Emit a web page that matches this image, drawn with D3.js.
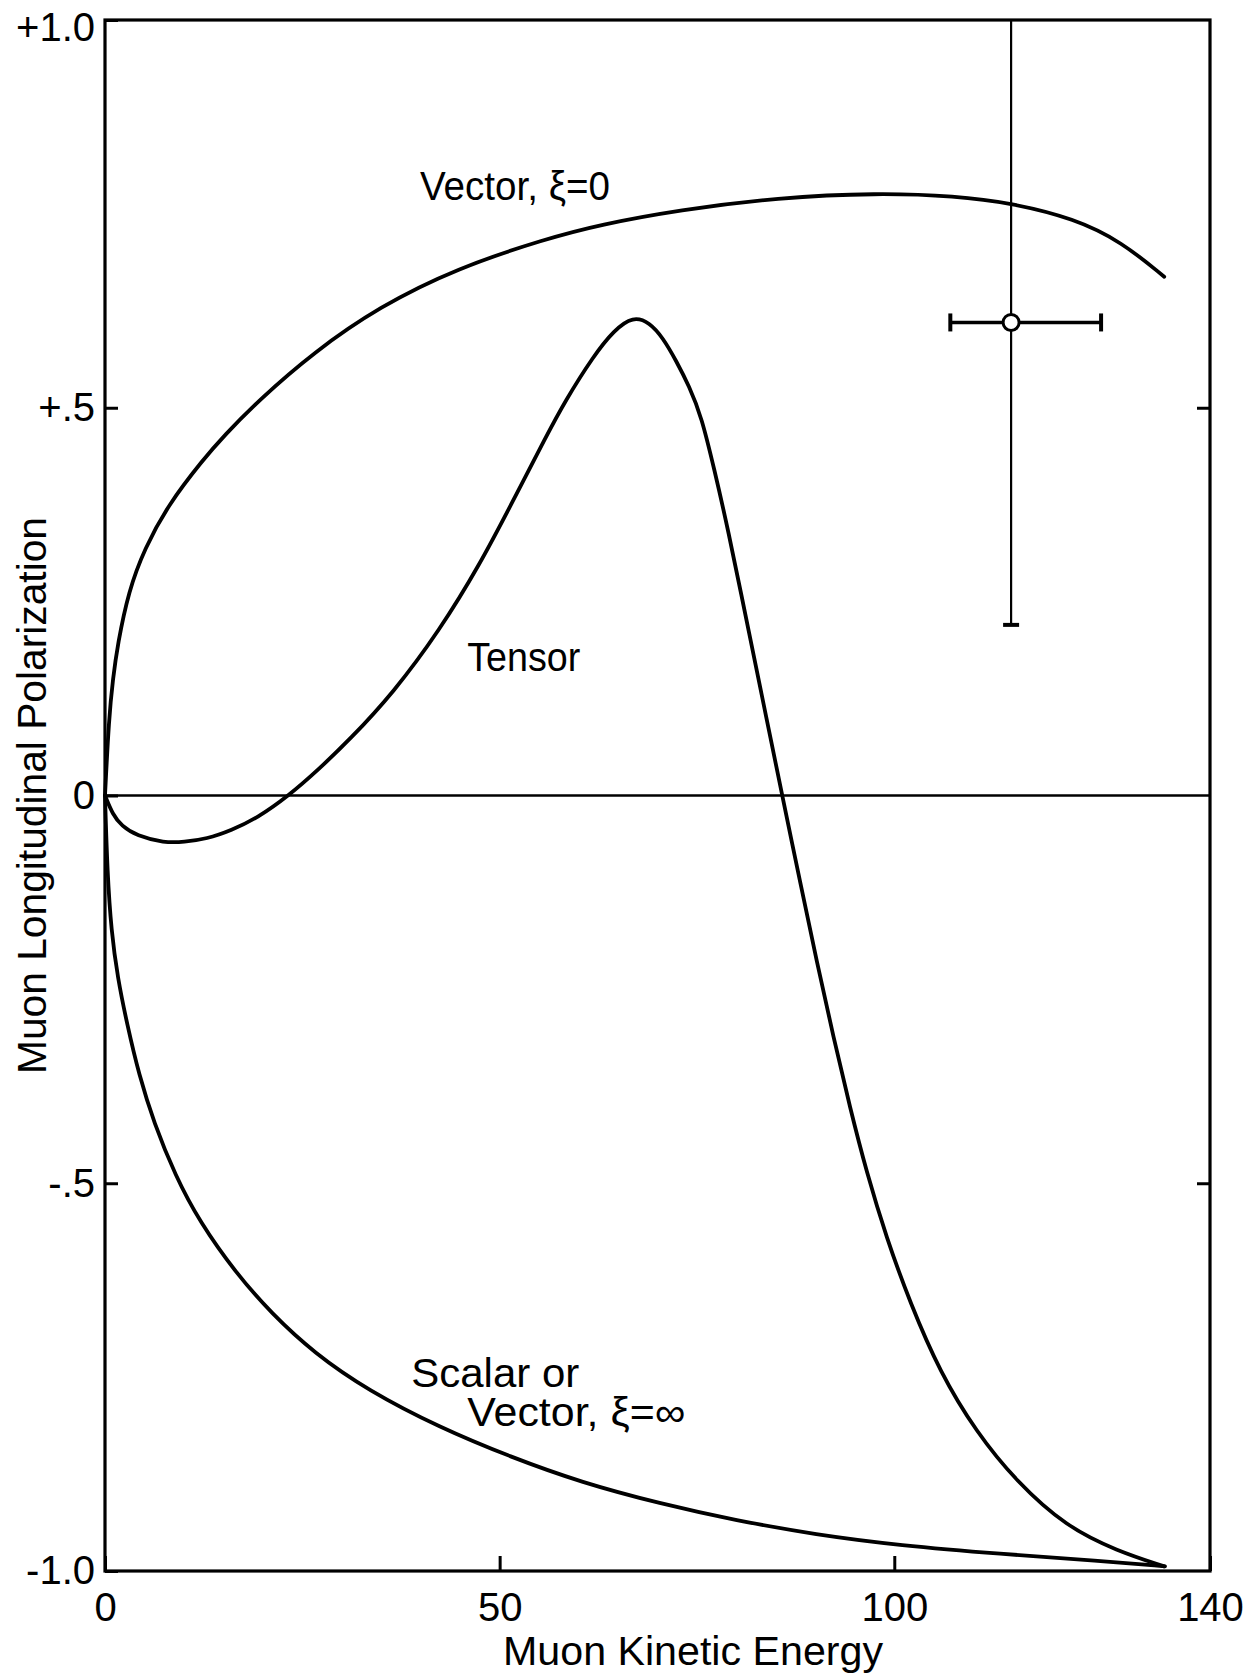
<!DOCTYPE html>
<html>
<head>
<meta charset="utf-8">
<script src="https://cdn.jsdelivr.net/npm/d3@7"></script>
<style>
  html, body { margin: 0; padding: 0; background: #fff; }
  svg { display: block; }
  text { font-family: "Liberation Sans", Arial, sans-serif; fill: #000; }
</style>
</head>
<body>
<svg id="chart" width="1250" height="1678"></svg>
<script>
// ---------------- DATA ----------------
const xTickValues = [0, 50, 100, 140];
const xTickLabels = ["0", "50", "100", "140"];
const yTickValues = [1.0, 0.5, 0, -0.5, -1.0];
const yTickLabels = ["+1.0", "+.5", "0", "-.5", "-1.0"];

const vectorE = [0, 0.5, 1.0, 1.6, 3.0, 5.0, 8.0, 12.5, 15, 19.5, 26.5, 34.7, 44.6, 55.9, 62.7, 72.7, 85.3, 97.8, 107.8, 114.8, 122.8, 128.8, 134.2];
const vectorP = [0, 0.10, 0.15, 0.195, 0.264, 0.318, 0.375, 0.434, 0.463, 0.510, 0.572, 0.630, 0.680, 0.718, 0.736, 0.755, 0.771, 0.777, 0.773, 0.764, 0.744, 0.714, 0.669];

const tensorE = [0, 1, 2.1, 4, 7.5, 10, 12.9, 16, 19.3, 23.3, 27, 31, 36.5, 42.4, 47.5, 51.6, 56, 58.2, 61.9, 64.5, 66.9, 69, 70.7, 72.4, 74, 75.6, 77.2, 78.8, 81.7, 83.8, 85.8, 88.1, 90.2, 92.3, 94.4, 96.5, 99.0, 102.0, 105.8, 110.4, 115.5, 121.8, 128.2, 134.2];
const tensorP = [0, -0.025, -0.039, -0.052, -0.061, -0.060, -0.056, -0.045, -0.029, 0, 0.033, 0.072, 0.132, 0.213, 0.298, 0.378, 0.465, 0.507, 0.567, 0.600, 0.618, 0.610, 0.590, 0.560, 0.528, 0.488, 0.420, 0.350, 0.205, 0.100, 0.0, -0.113, -0.215, -0.312, -0.403, -0.486, -0.570, -0.654, -0.744, -0.821, -0.885, -0.943, -0.974, -0.994];

const scalarE = [0, 0.3, 0.8, 1.6, 2.8, 4.3, 6.2, 8.9, 12, 16.6, 21.1, 26.5, 33.3, 42.4, 51.4, 60.4, 70.3, 80, 90, 100.7, 113.4, 126.1, 134.3];
const scalarP = [0, -0.10, -0.175, -0.235, -0.295, -0.36, -0.422, -0.49, -0.55, -0.616, -0.668, -0.719, -0.767, -0.815, -0.853, -0.886, -0.913, -0.935, -0.953, -0.967, -0.978, -0.987, -0.994];

// experimental point
const pointE = [114.8];
const pointP = [0.61];
const pointELow = [107.1];
const pointEHigh = [126.2];
const pointPLow = [0.22];
const pointPHigh = [1.0];

const curveLabels = ["Vector, ξ=0", "Tensor", "Scalar or", "Vector, ξ=∞"];
const xTitle = "Muon Kinetic Energy";
const yTitle = "Muon Longitudinal Polarization";

// ---------------- LAYOUT ----------------
const svg = d3.select("#chart");
const mLeft = 105, mRight = 1210, mTop = 20, mBottom = 1571;

const x = d3.scaleLinear().domain([0, 140]).range([mLeft, mRight]);
const y = d3.scaleLinear().domain([-1, 1]).range([mBottom, mTop]);

// frame
svg.append("rect")
  .attr("x", mLeft).attr("y", mTop)
  .attr("width", mRight - mLeft).attr("height", mBottom - mTop)
  .attr("fill", "none").attr("stroke", "#000").attr("stroke-width", 3.2);

// zero line
svg.append("line")
  .attr("x1", x(0)).attr("x2", x(140))
  .attr("y1", y(0)).attr("y2", y(0))
  .attr("stroke", "#000").attr("stroke-width", 2.5);

// axes
const yAxis = d3.axisLeft(y)
  .tickValues(yTickValues)
  .tickFormat((d, i) => yTickLabels[i])
  .tickSizeInner(-13).tickSizeOuter(0).tickPadding(10);
const gy = svg.append("g").attr("transform", `translate(${mLeft},0)`).call(yAxis);

const yAxisR = d3.axisRight(y)
  .tickValues([0.5, -0.5])
  .tickFormat("")
  .tickSizeInner(-13).tickSizeOuter(0);
const gyr = svg.append("g").attr("transform", `translate(${mRight},0)`).call(yAxisR);

const xAxis = d3.axisBottom(x)
  .tickValues(xTickValues)
  .tickFormat((d, i) => xTickLabels[i])
  .tickSizeInner(-15).tickSizeOuter(0).tickPadding(22);
const gx = svg.append("g").attr("transform", `translate(0,${mBottom})`).call(xAxis);

[gy, gyr, gx].forEach(g => {
  g.select(".domain").remove();
  g.selectAll(".tick line").attr("stroke", "#000").attr("stroke-width", 3);
  g.selectAll(".tick text")
    .style("font-family", "'Liberation Sans', Arial, sans-serif")
    .attr("font-size", 40).attr("fill", "#000");
});
// keep the top label inside the page, as in the reference
gy.selectAll(".tick text").filter(d => d === 1.0).attr("dy", "0.5em");

// curves
const line = d3.line()
  .x(d => x(d[0])).y(d => y(d[1]))
  .curve(d3.curveBasis);

const series = [
  d3.zip(vectorE, vectorP),
  d3.zip(tensorE, tensorP),
  d3.zip(scalarE, scalarP)
];
svg.selectAll("path.curve").data(series).enter().append("path")
  .attr("class", "curve")
  .attr("d", line)
  .attr("fill", "none").attr("stroke", "#000")
  .attr("stroke-width", 3.8).attr("stroke-linecap", "round").attr("stroke-linejoin", "round");

// error bars
const ge = svg.append("g");
pointE.forEach((e, i) => {
  ge.append("line").attr("x1", x(e)).attr("x2", x(e))
    .attr("y1", y(pointPHigh[i])).attr("y2", y(pointPLow[i]))
    .attr("stroke", "#000").attr("stroke-width", 2.2);
  ge.append("line").attr("x1", x(e) - 8).attr("x2", x(e) + 8)
    .attr("y1", y(pointPLow[i])).attr("y2", y(pointPLow[i]))
    .attr("stroke", "#000").attr("stroke-width", 4);
  ge.append("line").attr("x1", x(pointELow[i])).attr("x2", x(pointEHigh[i]))
    .attr("y1", y(pointP[i])).attr("y2", y(pointP[i]))
    .attr("stroke", "#000").attr("stroke-width", 3.5);
  [pointELow[i], pointEHigh[i]].forEach(ex => {
    ge.append("line").attr("x1", x(ex)).attr("x2", x(ex))
      .attr("y1", y(pointP[i]) - 9).attr("y2", y(pointP[i]) + 9)
      .attr("stroke", "#000").attr("stroke-width", 4);
  });
  ge.append("circle").attr("cx", x(e)).attr("cy", y(pointP[i])).attr("r", 8)
    .attr("fill", "#fff").attr("stroke", "#000").attr("stroke-width", 3);
});

// curve labels (anchor in data units)
const labelPos = [[39.9, 0.768, 190], [45.9, 0.161, 113], [38.8, -0.763, 168], [45.9, -0.813, 218]];
curveLabels.forEach((t, i) => {
  svg.append("text")
    .attr("x", x(labelPos[i][0])).attr("y", y(labelPos[i][1]))
    .attr("font-size", 40)
    .attr("textLength", labelPos[i][2]).attr("lengthAdjust", "spacingAndGlyphs")
    .text(t);
});

// axis titles
svg.append("text")
  .attr("x", x(74.5)).attr("y", 1665)
  .attr("text-anchor", "middle").attr("font-size", 40)
  .attr("textLength", 380).attr("lengthAdjust", "spacingAndGlyphs")
  .text(xTitle);
svg.append("text")
  .attr("transform", `translate(46,${y(0)}) rotate(-90)`)
  .attr("text-anchor", "middle").attr("font-size", 40)
  .attr("textLength", 557).attr("lengthAdjust", "spacingAndGlyphs")
  .text(yTitle);
</script>
</body>
</html>
